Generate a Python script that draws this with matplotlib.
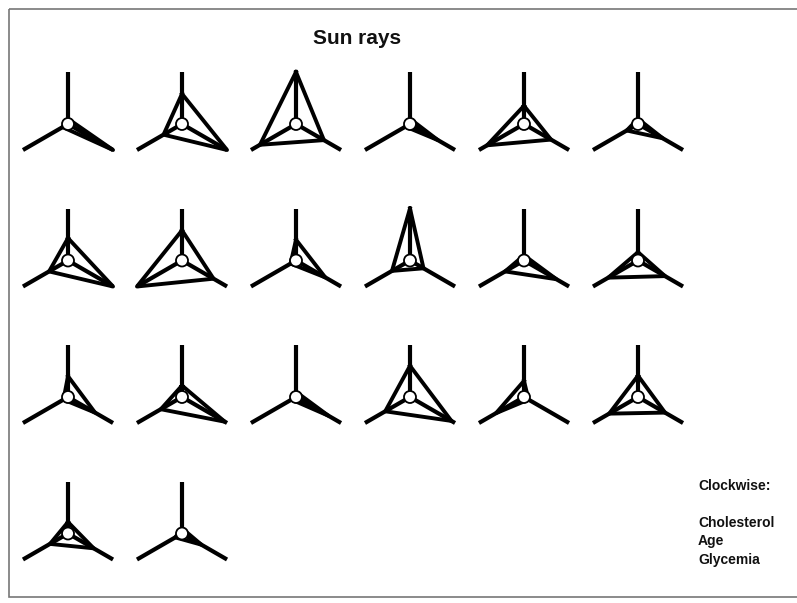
import matplotlib
matplotlib.use("Agg")
import matplotlib.pyplot as plt
from matplotlib.patches import Circle, Rectangle
import numpy as np

plt.rcParams['font.family'] = ['Liberation Sans', 'DejaVu Sans']

# Relative ray lengths (0..1) of the three variables for each case
cholesterol = [0.10, 0.58, 1.00, 0.10, 0.35, 0.10,
               0.43, 0.58, 0.40, 1.00, 0.10, 0.16,
               0.40, 0.22, 0.10, 0.60, 0.31, 0.41,
               0.22, 0.10]
age = [1.00, 1.00, 0.62, 0.62, 0.60, 0.55,
       1.00, 0.70, 0.65, 0.30, 0.72, 0.60,
       0.60, 0.95, 0.72, 0.92, 0.10, 0.60,
       0.57, 0.43]
glycemia = [0.12, 0.41, 0.80, 0.10, 0.82, 0.25,
            0.42, 1.00, 0.12, 0.40, 0.42, 0.66,
            0.10, 0.47, 0.10, 0.55, 0.62, 0.64,
            0.40, 0.15]

legend_title = "Clockwise:"
legend_items = ["Cholesterol", "Age", "Glycemia"]

W, H = 797, 603
fig = plt.figure(figsize=(W / 100, H / 100), dpi=100)
ax = fig.add_axes([0, 0, 1, 1])
ax.set_xlim(0, W)
ax.set_ylim(H, 0)
ax.set_aspect('equal')
ax.axis('off')

# page frame
ax.add_patch(Rectangle((9, 9), W + 10, 588, fill=False, edgecolor='#777777', lw=1.2))

ax.text(357, 38, "Sun rays", fontsize=15, fontweight='bold', ha='center', va='center',
        color='#111111')

ncols = 6
x0, dx = 68, 114
y0, dy = 124, 136.5
ray_len = 52
r_circle = 6
# clockwise from the top: Cholesterol (up), Age (lower right), Glycemia (lower left)
angles = np.deg2rad([90, -30, 210])
ux, uy = np.cos(angles), -np.sin(angles)

for i, vals in enumerate(zip(cholesterol, age, glycemia)):
    cx = x0 + (i % ncols) * dx
    cy = y0 + (i // ncols) * dy
    for k in range(3):
        ax.plot([cx, cx + ray_len * ux[k]], [cy, cy + ray_len * uy[k]],
                color='black', lw=3.0, solid_capstyle='butt', zorder=2)
    v = np.array(vals)
    px = cx + v * ray_len * ux
    py = cy + v * ray_len * uy
    ax.plot(np.append(px, px[0]), np.append(py, py[0]), color='black', lw=2.8,
            solid_joinstyle='round', zorder=2)
    ax.add_patch(Circle((cx, cy), r_circle, facecolor='white', edgecolor='black',
                        lw=1.3, zorder=3))

ax.text(698, 486, legend_title, fontsize=10, fontweight='bold', ha='left', va='center',
        color='#111111')
for j, name in enumerate(legend_items):
    ax.text(698, 523 + j * 18.5, name, fontsize=10, fontweight='bold', ha='left',
            va='center', color='#111111')

fig.savefig("out.png", dpi=100)
